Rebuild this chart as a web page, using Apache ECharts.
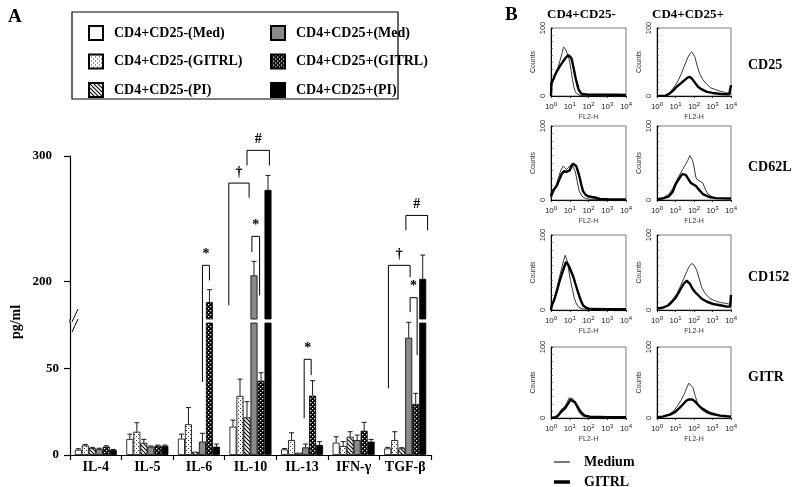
<!DOCTYPE html>
<html><head><meta charset="utf-8">
<script src="https://cdn.jsdelivr.net/npm/echarts/dist/echarts.min.js"></script>
<style>html,body{margin:0;padding:0;background:#fff}#c{width:800px;height:487px}</style>
</head><body><div id="c"></div>
<script>
// ---------- Panel A data ----------
const categories = ['IL-4', 'IL-5', 'IL-6', 'IL-10', 'IL-13', 'IFN-γ', 'TGF-β'];
const groupNames = ['CD4+CD25-(Med)', 'CD4+CD25-(GITRL)', 'CD4+CD25-(PI)', 'CD4+CD25+(Med)', 'CD4+CD25+(GITRL)', 'CD4+CD25+(PI)'];
const negMed      = [3.0, 9.2, 9.4, 16.3, 3.2, 7.1, 3.8];
const negMedErr   = [0.6, 2.8, 2.6, 3.8, 0.5, 3.4, 0.6];
const negGitrl    = [5.5, 13.4, 17.7, 34.0, 8.6, 5.2, 8.6];
const negGitrlErr = [0.6, 5.2, 9.6, 9.7, 4.2, 2.5, 4.8];
const negPi       = [4.0, 7.0, 1.9, 21.7, 1.3, 10.5, 3.8];
const negPiErr    = [0.4, 2.0, 0, 9.0, 0, 2.9, 0.4];
const posMed      = [3.5, 4.8, 7.7, 204.8, 4.4, 8.6, 67.5];
const posMedErr   = [0.4, 0.4, 4.8, 11.2, 1.9, 2.9, 8.9];
const posGitrl    = [4.8, 5.3, 183.5, 42.8, 34.2, 14.0, 29.4];
const posGitrlErr = [0.5, 0.4, 9.9, 4.6, 8.6, 4.8, 6.1];
const posPi       = [2.9, 5.3, 4.8, 273.0, 5.8, 7.7, 202.0];
const posPiErr    = [0.3, 0.4, 1.5, 11.5, 1.9, 1.3, 19.0];
const lowerTicks = [0, 50];
const upperTicks = [200, 300];
const LOWER_MAX = 76, UPPER_MIN = 170, UPPER_MAX = 300;
// significance marks: category, bar positions (0..5), bracket top value, left/right leg bottoms, symbol
const sigCat   = [2, 3, 3, 3, 4, 6, 6, 6];
const sigFrom  = [3, -0.6, 2.0, 2.7, 2.8, 0.1, 3.2, 2.6];
const sigTo    = [4, 2.3, 5.2, 3.8, 3.8, 3.2, 4.2, 5.7];
const sigTop   = [212.8, 278.4, 304.5, 235.9, 55.1, 212.8, 187.0, 252.6];
const sigLeft  = [42.0, 180.9, 292.5, 223.4, 21.1, 38.4, 175.5, 240.7];
const sigRight = [200.8, 266.7, 292.5, 188.8, 46.0, 203.4, 57.6, 240.7];
const sigSym   = ['*', '†', '#', '*', '*', '†', '*', '#'];

// ---------- Panel B data (FL2-H, counts) ----------
const markers = ['CD25', 'CD62L', 'CD152', 'GITR'];
const populations = ['CD4+CD25-', 'CD4+CD25+'];
const cd25NegMedium = [[1,0],[1.1,15],[1.5,27],[2,36],[2.5,44],[3,52],[4,64],[4.6,72],[5.2,74],[6,69],[7,64],[8,60],[10,50],[12,36],[14,24],[17,12],[20,6],[25,3],[35,1],[60,0.5],[10000,0.5]];
const cd25NegGitrl  = [[1,0],[1.05,20],[1.3,24],[1.6,30],[2,36],[3,44],[4,49],[5,53],[6,56],[7,58],[8.5,60],[10,60],[12,56],[14,49],[17,38],[20,28],[25,17],[30,9],[40,4],[55,2.5],[100,2],[300,2],[1000,2],[3000,1.8],[10000,1.5]];
const cd25PosMedium = [[1,0],[2.5,0.5],[4,3],[6,8],[10,16],[14,23],[20,32],[30,44],[45,56],[60,62],[75,65],[90,63],[110,58],[150,44],[200,33],[300,24],[500,17],[800,12],[2000,8],[5000,5],[9000,4],[10000,4]];
const cd25PosGitrl  = [[1,0],[3,0.5],[5,4],[8,9],[12,14],[20,19],[30,23],[45,27],[60,28],[80,25],[110,20],[160,14],[250,10],[500,6],[1000,4.5],[3000,3],[8000,2.5],[9500,3],[10000,16]];
const cd62NegMedium = [[1,3],[1.5,12],[2,22],[2.5,30],[3.3,40],[4.5,46],[5.5,44],[6.7,41],[8,43],[10,46],[13,48],[16,47],[20,38],[25,25],[32,12],[45,5],[70,2],[120,1],[1000,0.5],[10000,0.5]];
const cd62NegGitrl  = [[1,5],[1.2,12],[1.6,16],[2,19],[2.7,27],[3.7,35],[5,39],[6.5,38],[8.3,37],[10,40],[12.4,46],[15,49],[18.5,50],[22,46],[28,38],[34,30],[42,20],[51,12],[70,7],[94,5],[150,4],[257,3],[400,1.5],[1000,1],[10000,0.8]];
const cd62PosMedium = [[1,1],[1.9,2],[4.4,8],[7,15],[10,23],[15,32],[24,41],[35,48],[45,53],[60,60],[70,57],[85,53],[105,42],[128,30],[160,27],[196,26],[300,23],[400,15],[570,8],[1000,4],[1600,2],[10000,2]];
const cd62PosGitrl  = [[1,1],[1.9,2],[4.4,5],[7,11],[10,21],[14,27],[19,32],[24,35],[29,36],[36,34],[45,30],[68,23],[128,19],[200,13],[300,8],[700,4],[1500,2.5],[10000,2]];
const cd152NegMedium = [[1,0],[1.1,6],[1.5,16],[2,28],[2.7,42],[3.8,57],[4.7,66],[5.7,73],[6.5,69],[7.5,64],[9,52],[11,39],[14,27],[17,17],[22,9],[29,4],[45,1.5],[100,1],[10000,1]];
const cd152NegGitrl  = [[1,0],[1.1,6],[1.5,14],[2,24],[2.7,36],[3.8,48],[5,57],[6.4,64],[8,61],[9.6,57],[12,51],[15.6,44],[20,35],[29,22],[40,12],[52,6],[75,3],[117,1.3],[1000,1],[10000,1]];
const cd152PosMedium = [[1,2],[2,3],[4,7],[7.4,15],[12,22],[17,30],[28,42],[40,51],[55,58],[75,62],[100,60],[140,53],[200,40],[262,30],[400,22],[750,15],[1500,12],[2600,10],[5000,9],[7500,8],[10000,8]];
const cd152PosGitrl  = [[1,2],[2,3],[4,6],[6,10],[10,16],[14,22],[20,29],[28,35],[40,39],[50,38],[60,35],[80,29],[113,24],[180,19],[262,15],[500,11],[1100,8],[3000,6],[6000,4.5],[9000,4.5],[10000,20]];
const gitrNegMedium = [[1,0],[1.7,1],[2.3,4],[3.1,10],[4.3,14],[5.7,17],[7.5,23],[9,28],[10.4,30],[13,28],[17,24],[22,17],[29,10],[38,5],[52,2.4],[100,1],[10000,1]];
const gitrNegGitrl  = [[1,0],[1.7,1],[2.3,3],[3.1,7],[4.3,11],[5.7,14],[8,20],[11,26],[14,25],[19,22],[26,16],[35,10],[48,6],[64,3.4],[117,2],[1000,1.2],[10000,1]];
const gitrPosMedium = [[1,1],[2,2],[4.4,5],[8,10],[12.7,17],[20,25],[30,34],[40,42],[52,49],[65,47],[86,43],[120,30],[163,19],[250,12],[470,7],[900,4.5],[1700,3.4],[5000,2.5],[10000,2]];
const gitrPosGitrl  = [[1,1],[2,2],[5.5,5],[10,9],[16,14],[25,19],[37,24],[50,26],[61,27],[80,26],[107,24],[160,19],[250,14],[450,10],[720,7],[1400,5],[2600,3.4],[6000,2.5],[10000,2]];
const histMedium = [cd25NegMedium, cd25PosMedium, cd62NegMedium, cd62PosMedium, cd152NegMedium, cd152PosMedium, gitrNegMedium, gitrPosMedium];
const histGitrl  = [cd25NegGitrl, cd25PosGitrl, cd62NegGitrl, cd62PosGitrl, cd152NegGitrl, cd152PosGitrl, gitrNegGitrl, gitrPosGitrl];

// ---------- styles ----------
const SERIF = '"Liberation Serif", "Times New Roman", serif';
const SANS = '"Liberation Sans", Arial, sans-serif';
const BAR_W = 7;

function makePattern(kind) {
  const c = document.createElement('canvas');
  c.width = 4; c.height = 4;
  const g = c.getContext('2d');
  if (kind === 'dots') {
    g.fillStyle = '#fff'; g.fillRect(0, 0, 4, 4);
    g.fillStyle = '#333'; g.fillRect(0, 0, 1, 1); g.fillRect(2, 2, 1, 1);
  } else if (kind === 'blackdots') {
    g.fillStyle = '#000'; g.fillRect(0, 0, 4, 4);
    g.fillStyle = '#fff'; g.fillRect(0, 0, 1.3, 1.3); g.fillRect(2, 2, 1.3, 1.3);
  } else {
    g.fillStyle = '#fff'; g.fillRect(0, 0, 4, 4);
    g.strokeStyle = '#000'; g.lineWidth = 1.1;
    g.beginPath(); g.moveTo(-1, -1); g.lineTo(5, 5); g.moveTo(-1, 3); g.lineTo(1, 5); g.moveTo(3, -1); g.lineTo(5, 1); g.stroke();
  }
  return { image: c, repeat: 'repeat' };
}
const fills = ['#fff', makePattern('dots'), makePattern('hatch'), '#8a8a8a', makePattern('blackdots'), '#000'];
const groupValues = [negMed, negGitrl, negPi, posMed, posGitrl, posPi];
const groupErrs = [negMedErr, negGitrlErr, negPiErr, posMedErr, posGitrlErr, posPiErr];

const chart = echarts.init(document.getElementById('c'), null, { renderer: 'canvas' });

const grids = [
  { left: 70, width: 361, top: 323, height: 132 },
  { left: 70, width: 361, top: 156, height: 163 }
];
const xAxes = [
  { type: 'category', gridIndex: 0, data: categories,
    axisLine: { lineStyle: { color: '#000', width: 1.2 } },
    axisTick: { show: true, length: 5, lineStyle: { color: '#000', width: 1.2 } },
    axisLabel: { interval: 0, color: '#000', fontFamily: SERIF, fontWeight: 'bold', fontSize: 14, margin: 5 } },
  { type: 'category', gridIndex: 1, data: categories, show: false }
];
const yAxes = [
  { type: 'value', gridIndex: 0, min: 0, max: LOWER_MAX, splitLine: { show: false },
    axisLine: { show: true, lineStyle: { color: '#000', width: 1.2 } },
    axisTick: { show: true, length: 6, customValues: lowerTicks, lineStyle: { color: '#000', width: 1.2 } },
    axisLabel: { customValues: lowerTicks, color: '#000', fontFamily: SERIF, fontWeight: 'bold', fontSize: 13, margin: 11 } },
  { type: 'value', gridIndex: 1, min: UPPER_MIN, max: UPPER_MAX, splitLine: { show: false },
    axisLine: { show: true, lineStyle: { color: '#000', width: 1.2 } },
    axisTick: { show: true, length: 6, customValues: upperTicks, lineStyle: { color: '#000', width: 1.2 } },
    axisLabel: { customValues: upperTicks, color: '#000', fontFamily: SERIF, fontWeight: 'bold', fontSize: 13, margin: 18 } }
];
const series = [];
groupNames.forEach((name, i) => {
  const common = { type: 'bar', name: name, barWidth: BAR_W, barGap: '0%', silent: true,
    itemStyle: { color: fills[i], borderColor: '#000', borderWidth: 0.8 } };
  series.push(Object.assign({}, common, { xAxisIndex: 0, yAxisIndex: 0, data: groupValues[i].slice() }));
  series.push(Object.assign({}, common, { xAxisIndex: 1, yAxisIndex: 1,
    data: groupValues[i].map(v => v >= UPPER_MIN ? v : '-') }));
});
function errData(lower) {
  const out = [];
  groupValues.forEach((vals, gi) => vals.forEach((v, ci) => {
    const e = groupErrs[gi][ci];
    if (e <= 0) return;
    if (lower ? v <= LOWER_MAX : v >= UPPER_MIN) out.push([ci, gi, v, e]);
  }));
  return out;
}
function errRender(params, api) {
  const ci = api.value(0), gi = api.value(1), v = api.value(2), e = api.value(3);
  const p0 = api.coord([ci, v]), p1 = api.coord([ci, v + e]);
  const x = p0[0] + (gi - 2.5) * BAR_W;
  const st = { stroke: '#000', lineWidth: 0.9 };
  return { type: 'group', children: [
    { type: 'line', shape: { x1: x, y1: p0[1], x2: x, y2: p1[1] }, style: st },
    { type: 'line', shape: { x1: x - 2.5, y1: p1[1], x2: x + 2.5, y2: p1[1] }, style: st }
  ] };
}
series.push({ type: 'custom', xAxisIndex: 0, yAxisIndex: 0, data: errData(true), renderItem: errRender, clip: false, silent: true, z: 5 });
series.push({ type: 'custom', xAxisIndex: 1, yAxisIndex: 1, data: errData(false), renderItem: errRender, clip: false, silent: true, z: 5 });

// ---------- Panel B ----------
const colBox = [{ left: 551, width: 75 }, { left: 657, width: 74 }];
const rowBox = [{ top: 28, height: 68 }, { top: 126, height: 74 }, { top: 235, height: 75 }, { top: 347, height: 71 }];
for (let r = 0; r < 4; r++) {
  for (let c = 0; c < 2; c++) {
    const k = r * 2 + c;
    const gi = grids.length;
    grids.push({ left: colBox[c].left, width: colBox[c].width, top: rowBox[r].top, height: rowBox[r].height,
      show: true, borderColor: '#555', borderWidth: 0.8, backgroundColor: 'transparent' });
    xAxes.push({ type: 'log', logBase: 10, gridIndex: gi, min: 1, max: 10000, splitNumber: 4,
      splitLine: { show: false },
      axisLine: { lineStyle: { color: '#000', width: 1 } },
      axisTick: { show: true, length: 2, lineStyle: { color: '#000', width: 0.8 } },
      minorTick: { show: true, length: 1.5, splitNumber: 5, lineStyle: { color: '#444', width: 0.6 } },
      axisLabel: { margin: 5, color: '#222', formatter: v => '{b|10}{s|' + Math.round(Math.log10(v)) + '}',
        rich: { b: { fontSize: 8, fontFamily: SANS, color: '#222' }, s: { fontSize: 6, fontFamily: SANS, color: '#222', verticalAlign: 'top', padding: [0, 0, 5, 0] } } },
      name: 'FL2-H', nameLocation: 'middle', nameGap: 18, nameTextStyle: { fontSize: 7, fontFamily: SANS, color: '#333' } });
    yAxes.push({ type: 'value', gridIndex: gi, min: 0, max: 100, interval: 100, splitLine: { show: false },
      axisLine: { show: true, lineStyle: { color: '#000', width: 1 } },
      axisTick: { show: true, length: 2, inside: true, lineStyle: { color: '#000', width: 0.8 } },
      minorTick: { show: true, splitNumber: 10, length: 2, lineStyle: { color: '#444', width: 0.6 } },
      axisLabel: { rotate: 90, fontSize: 7.5, fontFamily: SANS, color: '#222', margin: 4 },
      name: 'Counts', nameLocation: 'middle', nameGap: 14, nameTextStyle: { fontSize: 7, fontFamily: SANS, color: '#333' } });
    const xi = xAxes.length - 1, yi = yAxes.length - 1;
    series.push({ type: 'line', name: 'Medium', xAxisIndex: xi, yAxisIndex: yi, data: histMedium[k],
      symbol: 'none', silent: true, lineStyle: { color: '#222', width: 0.9 }, itemStyle: { color: '#222' } });
    series.push({ type: 'line', name: 'GITRL', xAxisIndex: xi, yAxisIndex: yi, data: histGitrl[k],
      symbol: 'none', silent: true, lineStyle: { color: '#000', width: 2.4 }, itemStyle: { color: '#000' }, z: 3 });
  }
}

const legendText = { color: '#000', fontFamily: SERIF, fontWeight: 'bold', fontSize: 14, lineHeight: 14, padding: [0, 0, 0, 6] };
const lineLegendText = Object.assign({}, legendText, { padding: [0, 0, 0, 9] });
chart.setOption({
  animation: false,
  backgroundColor: '#fff',
  grid: grids, xAxis: xAxes, yAxis: yAxes, series: series,
  legend: [
    { orient: 'vertical', left: 83, top: 20, itemWidth: 14, itemHeight: 14, itemGap: 12.5, data: groupNames.slice(0, 3),
      selectedMode: false, textStyle: legendText, icon: 'rect' },
    { orient: 'vertical', left: 265, top: 20, itemWidth: 14, itemHeight: 14, itemGap: 12.5, data: groupNames.slice(3),
      selectedMode: false, textStyle: legendText, icon: 'rect' },
    { orient: 'vertical', left: 549, top: 450, itemWidth: 16, itemHeight: 1.2, data: ['Medium'],
      selectedMode: false, textStyle: lineLegendText, icon: 'rect', itemStyle: { borderWidth: 0 } },
    { orient: 'vertical', left: 549, top: 470, itemWidth: 16, itemHeight: 3.5, data: ['GITRL'],
      selectedMode: false, textStyle: lineLegendText, icon: 'rect', itemStyle: { borderWidth: 0 } }
  ]
});

// ---------- annotations (positioned through the axes) ----------
function xPix(cat, pos) {
  return chart.convertToPixel({ xAxisIndex: 0, yAxisIndex: 0 }, [cat, 0])[0] + (pos - 2.5) * BAR_W;
}
function yPix(v) {
  return v >= UPPER_MIN ? chart.convertToPixel({ xAxisIndex: 1, yAxisIndex: 1 }, [0, v])[1]
                        : chart.convertToPixel({ xAxisIndex: 0, yAxisIndex: 0 }, [0, v])[1];
}
const gfx = [];
const txt = (x, y, text, size, extra) => Object.assign({ type: 'text', x: x, y: y, silent: true,
  style: Object.assign({ text: text, fill: '#000', font: 'bold ' + size + 'px ' + SERIF, verticalAlign: 'middle', align: 'left' }, extra || {}) });
gfx.push(txt(8, 17, 'A', 19));
gfx.push(txt(505, 15, 'B', 19));
gfx.push(Object.assign(txt(16, 322, 'pg/ml', 14, { align: 'center' }), { rotation: Math.PI / 2 }));
gfx.push(txt(547, 15, populations[0], 13));
gfx.push(txt(652, 15, populations[1], 13));
const rowLabelY = [65, 167, 277, 377];
markers.forEach((m, i) => gfx.push(txt(748, rowLabelY[i], m, 14)));
gfx.push({ type: 'rect', silent: true, shape: { x: 72, y: 12, width: 326, height: 87 }, style: { fill: 'none', stroke: '#000', lineWidth: 1.2 } });
// axis break
const yTopLow = yPix(LOWER_MAX), yBotUp = yPix(UPPER_MIN);
gfx.push({ type: 'line', silent: true, shape: { x1: 70, y1: yBotUp, x2: 70, y2: yTopLow }, style: { stroke: '#000', lineWidth: 1.2 } });
gfx.push({ type: 'line', silent: true, shape: { x1: 72, y1: yBotUp + 3, x2: 78, y2: yBotUp - 10 }, style: { stroke: '#000', lineWidth: 1 } });
gfx.push({ type: 'line', silent: true, shape: { x1: 72, y1: yTopLow + 9, x2: 78, y2: yTopLow - 4 }, style: { stroke: '#000', lineWidth: 1 } });
// significance brackets
sigCat.forEach((cat, i) => {
  const x1 = xPix(cat, sigFrom[i]), x2 = xPix(cat, sigTo[i]);
  const yt = yPix(sigTop[i]);
  gfx.push({ type: 'polyline', silent: true, shape: { points: [[x1, yPix(sigLeft[i])], [x1, yt], [x2, yt], [x2, yPix(sigRight[i])]] },
    style: { fill: 'none', stroke: '#000', lineWidth: 1 } });
  gfx.push(txt((x1 + x2) / 2, yt - 4, sigSym[i], 14, { align: 'center', verticalAlign: 'bottom' }));
});
chart.setOption({ graphic: gfx });
</script></body></html>
